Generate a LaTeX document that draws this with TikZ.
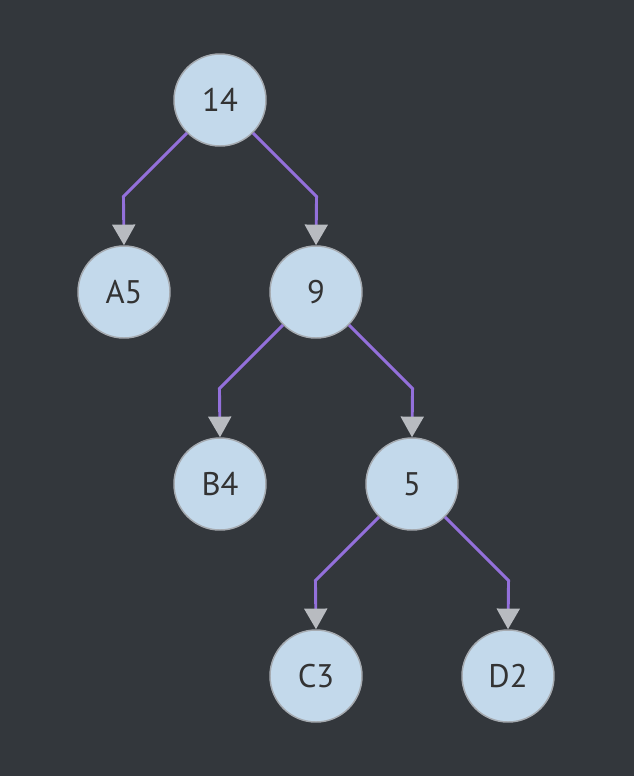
\documentclass[tikz,border=0pt]{standalone}
\usepackage{fontspec}
\setmainfont{PT Sans}
\usetikzlibrary{arrows.meta}
\definecolor{bgdark}{HTML}{33373C}
\definecolor{nodefill}{HTML}{C3D9EB}
\definecolor{nodeline}{HTML}{A5AAB0}
\definecolor{edgepurple}{HTML}{9370DB}
\definecolor{tipgray}{HTML}{B8BBC0}
\definecolor{labeltext}{HTML}{333333}
\begin{document}
\begin{tikzpicture}[x=0.75pt,y=-0.75pt,
  treenode/.style={circle,draw=nodeline,line width=1.1pt,fill=nodefill,
    minimum size=69pt,inner sep=0pt,text=labeltext,
    font=\fontsize{24.5}{28}\selectfont},
  edge/.style={draw=edgepurple,line width=2.2pt,line join=miter,
    -{Triangle[width=17pt,length=15.5pt,color=tipgray]}}]
  % canvas
  \fill[bgdark] (0,0) rectangle (634,776);
  \useasboundingbox (0,0) rectangle (634,776);
  % nodes
  \node[treenode] (n14) at (220,100) {14};
  \node[treenode] (nA5) at (124,292) {A5};
  \node[treenode] (n9)  at (316,292) {9};
  \node[treenode] (nB4) at (220,484) {B4};
  \node[treenode] (n5)  at (412,484) {5};
  \node[treenode] (nC3) at (316,676) {C3};
  \node[treenode] (nD2) at (508,676) {D2};
  % connectors: 45-degree run, then straight down
  \draw[edge] (n14.-135) -- ++(-63.5,63.5) -- (nA5.north);
  \draw[edge] (n14.-45)  -- ++(63.5,63.5)  -- (n9.north);
  \draw[edge] (n9.-135)  -- ++(-63.5,63.5) -- (nB4.north);
  \draw[edge] (n9.-45)   -- ++(63.5,63.5)  -- (n5.north);
  \draw[edge] (n5.-135)  -- ++(-63.5,63.5) -- (nC3.north);
  \draw[edge] (n5.-45)   -- ++(63.5,63.5)  -- (nD2.north);
\end{tikzpicture}
\end{document}
